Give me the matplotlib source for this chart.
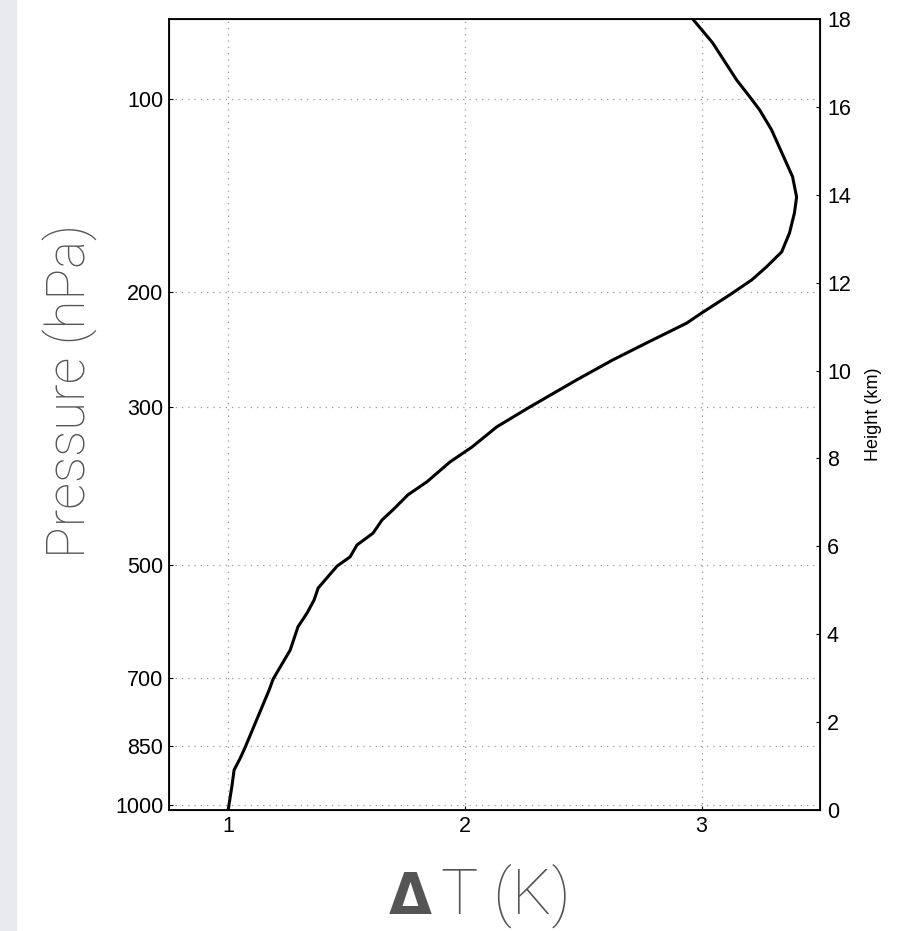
import matplotlib
matplotlib.use("Agg")
import matplotlib.pyplot as plt
import matplotlib.patches as mpatches
import numpy as np

# profile: temperature change (K) vs height (km)
height_km = [0.0, 0.55, 0.91, 1.18, 1.43, 2.73, 2.98, 3.64, 4.17, 4.48, 4.78, 5.05, 5.10,
             5.55, 5.76, 6.03, 6.30, 6.60, 6.83, 7.17, 7.47, 7.92, 8.26, 8.72, 9.17, 9.79,
             10.24, 10.63, 11.08, 11.31, 11.72, 12.06, 12.36, 12.70, 13.13, 13.59, 13.95,
             14.41, 15.48, 15.93, 16.23, 16.61, 17.46, 18.0]
delta_T = [1.000, 1.016, 1.025, 1.051, 1.072, 1.173, 1.190, 1.262, 1.295, 1.333, 1.363, 1.380, 1.388,
           1.460, 1.515, 1.544, 1.612, 1.650, 1.696, 1.759, 1.840, 1.937, 2.030, 2.135, 2.274, 2.473,
           2.624, 2.768, 2.937, 3.000, 3.118, 3.211, 3.274, 3.338, 3.371, 3.392, 3.401,
           3.384, 3.295, 3.245, 3.203, 3.148, 3.046, 2.962]

pressure_ticks = [100, 200, 300, 500, 700, 850, 1000]
height_ticks = [0, 2, 4, 6, 8, 10, 12, 14, 16, 18]
dT_ticks = [1, 2, 3]


def std_height(p):
    # standard atmosphere height (km) of a pressure level (hPa)
    p = np.asarray(p, dtype=float)
    trop = 44.331 * (1 - (p / 1013.25) ** 0.190263)
    strat = 11.0 + 6.3416 * np.log(226.32 / p)
    return np.where(p > 226.32, trop, strat)


fig = plt.figure(figsize=(8.97, 9.31), dpi=100)
fig.patches.append(mpatches.Rectangle((0, 0), 16 / 897, 1, transform=fig.transFigure,
                                      color="#e9eaee", zorder=0))

ax = fig.add_axes([0.1884, 0.1300, 0.7258, 0.8496])
ax.plot(delta_T, height_km, color="black", lw=2.2, solid_capstyle="butt")
ax.set_xlim(0.75, 3.5)
ax.set_ylim(0, 18)

ax.set_xticks(dT_ticks)
ax.set_xticklabels([str(t) for t in dT_ticks])
ax.set_yticks(std_height(pressure_ticks))
ax.set_yticklabels([str(p) for p in pressure_ticks])
ax.tick_params(direction="in", length=3, width=0.8, labelsize=15.5, pad=4,
               labelfontfamily="Liberation Sans")
ax.grid(True, color="#999999", linestyle=(0, (1, 4)), lw=0.9)
for s in ax.spines.values():
    s.set_linewidth(1.3)

ax2 = ax.twinx()
ax2.set_ylim(0, 18)
ax2.set_yticks(height_ticks)
ax2.tick_params(direction="in", length=3, width=0.8, labelsize=15.5, pad=5,
                labelfontfamily="Liberation Sans")
ax2.set_ylabel("Height (km)", fontsize=13, family="Liberation Sans", labelpad=10)

fig.text(70 / 897, 1 - 391 / 931, "Pressure (hPa)", rotation=90, ha="center", va="center",
         fontsize=38, color="#555555", family="Roboto", fontweight="light")
fig.text(410 / 897, 1 - 914 / 931, "\u0394", ha="center", va="baseline",
         fontsize=40, color="#555555", family="DejaVu Sans", fontweight="bold")
fig.text(506 / 897, 1 - 914 / 931, "T (K)", ha="center", va="baseline",
         fontsize=45, color="#555555", family="Roboto", fontweight="light")

fig.savefig("out.png", dpi=100)
